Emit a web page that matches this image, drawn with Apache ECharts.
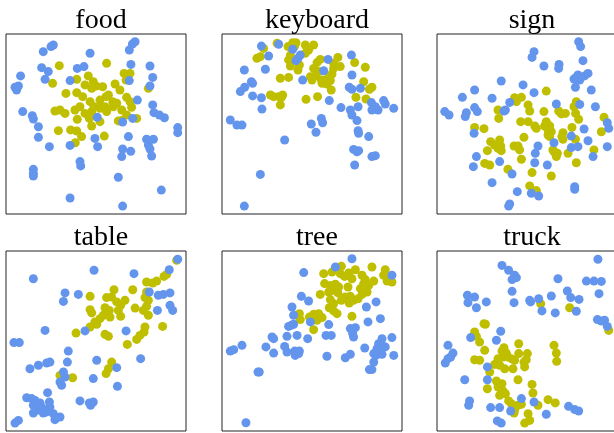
<!DOCTYPE html>
<html>
<head>
<meta charset="utf-8">
<script src="https://cdn.jsdelivr.net/npm/echarts@6/dist/echarts.min.js"></script>
<style>
  html, body { margin: 0; padding: 0; background: #fff; }
  #chart { width: 614px; height: 433px; }
</style>
</head>
<body>
<div id="chart"></div>
<script>
// Panel titles (one per embedding plot)
const panelTitles = ['food', 'keyboard', 'sign', 'table', 'tree', 'truck'];

// Two groups per panel, [x, y] in embedding units (0–100)
const foodBlue = [
  [26.3,93.9],[25.0,93.0],[20.7,90.2],[46.7,89.3],[71.7,95.7],[70.2,94.4],[68.5,91.1],[69.4,83.1],[80.0,82.2],
  [19.8,81.3],[23.5,79.1],[21.7,74.8],[8.1,76.7],[5.0,70.4],[5.9,68.9],[6.9,71.1],[39.6,80.9],[43.3,81.9],
  [35.6,74.1],[68.5,74.1],[81.5,75.9],[80.0,71.1],[73.0,63.3],[81.5,60.6],[82.2,56.3],[85.2,55.0],[88.0,53.5],
  [9.3,56.9],[14.6,54.6],[15.2,52.8],[18.0,48.5],[18.0,42.6],[24.1,37.4],[50.7,53.7],[70.4,53.1],[64.8,51.1],
  [95.4,48.0],[95.4,45.2],[68.0,43.0],[49.4,42.0],[50.9,37.4],[35.6,38.1],[78.1,41.5],[81.9,41.5],[79.1,38.3],
  [80.0,36.1],[80.9,32.2],[64.8,36.1],[69.3,34.8],[64.3,31.9],[41.1,29.1],[41.5,26.7],[15.2,24.8],[15.2,22.6],
  [15.2,21.1],[62.4,20.4],[86.3,13.3],[35.6,8.9],[64.8,4.4]
];
const foodYellow = [
  [29.6,82.4],[55.9,83.7],[65.6,78.1],[68.9,78.1],[25.9,72.6],[39.3,74.8],[45.7,76.7],[43.9,71.7],[48.5,73.5],
  [53.7,70.7],[60.6,72.2],[66.7,74.4],[63.3,68.9],[79.1,69.8],[33.3,67.0],[39.3,67.4],[42.6,65.2],[47.6,69.8],
  [50.0,71.1],[55.6,65.2],[56.9,66.1],[52.2,63.3],[46.7,62.4],[48.9,59.6],[59.3,62.4],[61.5,61.5],[67.0,64.8],
  [68.9,62.4],[69.8,59.3],[27.2,57.2],[30.0,57.8],[32.8,55.9],[38.3,57.8],[41.1,59.6],[43.9,55.9],[47.6,56.9],
  [52.2,58.7],[55.0,59.6],[55.9,56.9],[59.6,59.6],[64.3,57.8],[64.3,51.9],[67.0,55.0],[72.6,53.1],[39.6,52.6],
  [46.3,53.1],[52.2,51.3],[62.4,51.7],[47.6,48.9],[29.1,46.3],[35.9,46.7],[39.3,46.1],[42.0,43.0],[54.6,43.3],
  [38.5,39.6]
];

const keyboardBlue = [
  [21.9,93.3],[31.5,94.3],[25.9,87.8],[39.3,91.5],[43.5,88.3],[41.1,85.2],[42.2,86.5],[58.9,85.9],[71.9,88.3],
  [12.4,80.0],[24.1,80.4],[56.5,79.6],[72.2,77.2],[44.8,74.4],[16.3,73.5],[17.0,72.6],[12.6,70.4],[10.2,68.0],
  [17.0,65.6],[21.9,64.6],[22.2,58.3],[70.7,70.4],[72.2,69.3],[76.9,69.8],[59.6,63.0],[66.1,59.1],[71.3,57.8],
  [72.2,55.0],[75.6,59.6],[83.0,61.9],[83.3,57.8],[86.7,57.8],[89.8,63.0],[90.7,61.1],[95.4,58.7],[85.2,59.6],
  [4.6,52.2],[8.3,49.4],[11.1,49.4],[55.2,53.1],[55.9,50.7],[49.6,50.0],[52.2,45.4],[75.0,51.9],[75.6,46.3],
  [75.9,44.8],[81.5,43.0],[34.8,41.1],[73.1,35.9],[75.9,35.2],[75.0,34.6],[83.3,31.9],[85.2,32.4],[73.7,27.2],
  [21.3,22.0],[12.4,4.4]
];
const keyboardYellow = [
  [23.1,92.0],[30.6,94.8],[36.7,93.0],[39.3,95.2],[41.1,95.2],[40.4,93.3],[46.3,93.9],[50.9,93.9],[46.3,89.3],
  [48.1,91.1],[38.0,88.3],[19.4,86.5],[21.3,87.4],[37.0,85.6],[43.0,82.8],[42.2,80.0],[38.0,82.2],[52.8,84.1],
  [54.6,85.9],[50.9,80.9],[53.7,79.1],[51.9,76.7],[62.0,83.7],[62.0,80.9],[64.4,87.0],[65.7,81.9],[73.7,84.1],
  [79.6,81.5],[49.1,76.3],[50.0,74.4],[55.2,74.4],[57.4,74.4],[59.6,76.3],[61.1,77.8],[60.2,74.1],[32.4,75.4],
  [37.0,75.9],[55.6,72.6],[58.3,72.2],[60.7,68.9],[78.7,73.5],[83.3,70.4],[81.9,69.3],[26.9,66.1],[28.7,65.2],
  [31.5,65.2],[33.7,66.1],[33.0,64.8],[32.4,60.6],[46.7,63.7],[53.1,65.2],[74.4,64.8],[80.0,63.9]
];

const signBlue = [
  [78.7,95.7],[79.8,93.0],[53.9,90.2],[52.8,87.0],[59.4,82.2],[67.8,83.1],[67.6,80.9],[81.1,85.2],[76.1,75.0],
  [78.3,77.2],[79.3,74.4],[82.0,76.7],[83.9,78.1],[77.4,75.9],[76.9,70.4],[85.7,68.9],[35.7,73.9],[47.8,71.7],
  [20.9,68.9],[53.9,67.4],[14.1,64.8],[30.6,64.3],[4.3,56.9],[6.7,55.0],[16.3,56.3],[15.7,54.1],[20.9,59.1],
  [22.4,56.9],[40.4,62.0],[38.0,57.8],[37.2,57.2],[66.3,61.1],[79.3,60.9],[88.0,59.6],[94.6,50.7],[95.4,47.6],
  [81.7,47.2],[20.6,44.8],[74.6,43.3],[83.9,40.7],[65.0,39.6],[56.1,37.8],[54.6,33.7],[74.6,36.9],[78.3,37.4],
  [94.6,37.4],[86.7,31.9],[21.9,31.9],[20.2,26.3],[34.8,29.1],[54.3,28.5],[61.3,27.2],[41.7,22.2],[30.6,17.4],
  [76.5,15.2],[76.5,13.7],[44.6,12.4],[52.4,11.5],[56.5,10.0],[40.4,5.6],[39.8,4.4]
];
const signYellow = [
  [60.7,68.3],[43.1,64.6],[46.9,64.8],[44.1,62.4],[50.6,60.6],[51.5,57.2],[33.9,57.8],[34.3,53.1],[59.4,56.9],
  [67.6,57.2],[69.1,55.6],[71.3,55.9],[77.4,62.4],[76.1,59.6],[77.0,55.9],[78.7,52.6],[92.8,53.7],[91.3,45.7],
  [20.9,48.1],[26.1,47.4],[46.5,51.3],[50.6,51.3],[54.3,48.9],[55.2,47.6],[60.7,51.3],[59.8,48.9],[62.6,48.9],
  [61.7,46.7],[63.5,45.7],[62.6,43.0],[61.7,43.9],[70.0,45.2],[69.4,43.0],[70.0,41.5],[75.0,48.1],[76.9,41.5],
  [48.3,42.6],[29.8,40.2],[32.0,38.3],[34.8,41.1],[35.4,37.8],[33.9,36.5],[35.7,35.2],[28.0,35.2],[42.8,37.8],
  [45.0,37.8],[45.9,35.6],[46.9,30.4],[64.4,35.6],[66.9,33.7],[66.3,31.9],[65.0,34.6],[72.8,33.7],[87.2,35.6],
  [77.4,28.5],[26.5,28.1],[29.3,27.2],[39.4,24.8],[52.8,23.0],[63.5,21.1],[51.5,15.6],[55.2,13.0]
];

const tableBlue = [
  [95.4,95.4],[90.7,89.6],[48.9,89.3],[71.1,87.4],[15.2,84.6],[32.8,76.7],[31.9,72.0],[40.2,75.9],[79.6,77.2],
  [84.6,75.4],[87.4,75.9],[91.1,76.7],[91.1,69.8],[92.6,67.0],[84.1,67.0],[21.7,55.9],[43.9,55.6],[66.7,55.6],
  [4.4,49.1],[7.4,49.1],[34.6,44.4],[34.1,38.3],[22.6,37.8],[24.4,38.3],[18.0,36.5],[13.3,34.6],[50.4,39.3],
  [61.5,35.2],[74.8,40.2],[31.9,32.8],[32.8,30.0],[30.0,27.2],[30.9,25.4],[48.5,29.1],[61.9,24.8],[23.1,21.3],
  [11.5,18.5],[14.3,18.0],[16.1,17.0],[15.2,14.3],[18.9,15.6],[19.8,13.3],[17.0,11.5],[15.2,10.0],[24.1,16.1],
  [24.4,13.3],[22.6,10.6],[26.3,9.6],[27.2,6.3],[30.0,7.8],[20.7,10.0],[41.1,16.7],[46.3,15.6],[48.5,16.1],
  [47.0,14.3],[5.0,4.4],[6.9,5.9]
];
const tableYellow = [
  [94.8,94.8],[89.3,87.0],[87.8,85.9],[83.7,83.3],[78.1,82.8],[81.5,82.2],[70.4,78.5],[60.0,78.5],[58.7,74.4],
  [55.9,74.1],[46.7,74.8],[78.1,77.2],[77.2,74.1],[79.1,72.6],[78.1,69.3],[76.3,67.0],[79.1,64.3],[61.5,71.7],
  [66.1,72.6],[63.7,69.8],[62.4,67.0],[63.7,63.7],[71.7,68.3],[46.7,67.4],[47.6,65.6],[55.0,68.5],[55.9,66.1],
  [57.4,67.0],[54.1,64.3],[52.2,62.4],[57.8,63.3],[49.4,60.6],[50.4,59.3],[46.7,57.8],[38.9,54.4],[55.0,53.7],
  [56.9,52.6],[87.0,58.1],[77.2,57.8],[76.7,55.0],[74.4,53.1],[72.6,50.9],[67.4,48.1],[58.7,38.3],[56.9,34.6],
  [55.6,31.9],[30.0,30.9],[37.0,29.6]
];

const treeBlue = [
  [72.2,95.7],[63.0,91.1],[45.4,88.0],[94.4,86.5],[44.1,74.8],[48.1,72.2],[38.9,68.9],[39.8,64.3],[85.6,71.7],
  [80.2,68.9],[88.0,62.4],[81.1,60.6],[49.1,60.6],[37.0,58.1],[38.5,58.7],[39.8,59.3],[59.3,59.1],[71.3,56.9],
  [74.1,57.4],[72.6,54.1],[73.1,52.2],[27.8,52.2],[28.7,51.3],[36.1,52.6],[41.7,53.1],[47.6,51.3],[57.8,53.1],
  [60.7,53.1],[88.9,51.3],[94.4,51.9],[11.1,47.6],[6.5,45.2],[4.6,44.4],[24.4,46.7],[28.7,43.3],[34.8,47.0],
  [36.1,43.9],[40.4,44.4],[43.0,44.4],[40.7,42.0],[42.6,43.0],[58.3,41.5],[68.5,40.7],[71.3,42.6],[79.3,46.1],
  [87.0,48.5],[89.8,47.0],[86.1,45.7],[88.0,43.3],[84.3,43.0],[88.9,42.6],[85.6,42.0],[90.7,46.7],[95.4,42.0],
  [84.3,38.3],[81.9,34.1],[83.3,34.1],[20.0,32.8],[20.7,32.8],[13.3,4.6]
];
const treeYellow = [
  [56.5,87.4],[61.1,88.3],[66.3,91.5],[65.7,87.4],[68.1,85.9],[70.4,87.8],[74.1,89.6],[72.2,84.6],[83.3,91.1],
  [90.7,89.6],[89.8,86.5],[91.7,83.3],[94.4,82.8],[77.8,86.5],[79.6,84.1],[84.3,83.3],[81.5,80.9],[78.7,81.9],
  [57.0,81.9],[60.2,80.9],[63.0,81.5],[64.8,80.0],[61.1,78.1],[59.3,77.2],[64.4,76.7],[70.0,80.0],[76.9,79.1],
  [80.6,77.2],[77.8,75.9],[75.6,73.5],[73.1,72.6],[71.3,74.8],[68.5,74.4],[70.7,71.1],[54.6,75.9],[60.2,73.0],
  [62.0,70.7],[59.6,68.5],[62.0,66.7],[63.9,65.2],[66.3,72.6],[43.0,65.2],[43.5,61.9],[48.5,63.3],[50.9,64.8],
  [53.7,65.2],[55.6,63.0],[52.8,61.5],[50.9,56.3],[72.2,63.7]
];

const truckBlue = [
  [89.4,95.4],[36.1,92.0],[39.8,89.3],[43.1,86.5],[41.7,84.1],[44.1,85.2],[67.2,84.6],[83.0,83.3],[87.2,83.3],
  [91.3,83.1],[41.7,77.6],[42.8,71.3],[72.4,77.8],[74.3,74.1],[78.9,73.1],[90.0,76.3],[16.9,75.4],[20.9,74.4],
  [17.2,71.3],[21.9,68.5],[27.4,71.7],[51.5,72.6],[52.0,71.7],[56.5,73.5],[63.5,75.0],[58.3,66.7],[65.7,65.6],
  [77.4,66.5],[89.1,61.9],[91.3,61.1],[93.1,61.5],[94.6,58.1],[35.4,55.4],[18.7,51.9],[33.0,50.4],[6.1,47.6],
  [8.9,43.3],[7.6,41.1],[6.1,40.2],[4.6,37.8],[28.0,35.6],[15.4,28.5],[28.0,28.5],[18.1,16.7],[17.6,14.3],
  [29.8,13.0],[34.8,13.0],[46.9,18.0],[53.9,16.1],[40.9,11.1],[60.7,9.3],[73.1,13.7],[76.5,11.9],[78.7,11.1],
  [33.5,5.6],[35.7,4.4]
];
const truckYellow = [
  [57.6,70.7],[73.7,68.5],[95.4,55.9],[26.1,59.6],[26.9,59.3],[20.9,55.0],[21.9,52.6],[23.7,49.4],[26.5,44.8],
  [20.9,39.6],[23.7,39.3],[45.4,48.5],[37.2,46.3],[36.1,44.4],[38.5,43.3],[36.7,41.1],[39.4,41.1],[33.9,40.2],
  [41.3,40.2],[43.1,39.3],[45.4,43.0],[50.2,43.0],[32.0,37.0],[34.8,36.5],[37.6,34.6],[42.2,34.6],[48.7,35.6],
  [48.3,38.3],[49.6,39.6],[29.3,32.8],[45.0,28.5],[65.0,47.6],[66.3,43.3],[66.5,38.7],[33.0,27.8],[36.1,26.3],
  [33.9,24.4],[36.7,22.2],[34.8,19.8],[38.0,20.7],[39.8,16.7],[41.3,15.2],[45.0,14.3],[28.0,23.5],[52.8,25.9],
  [53.3,21.1],[46.9,14.8],[43.1,11.5],[42.8,10.0],[56.1,14.3],[61.7,17.4],[65.7,15.6],[50.6,9.6],[51.5,5.9],
  [48.7,4.4]
];

// Yellow group drawn first so the blue group sits on top
const panelSeries = [
  [foodYellow, foodBlue],
  [keyboardYellow, keyboardBlue],
  [signYellow, signBlue],
  [tableYellow, tableBlue],
  [treeYellow, treeBlue],
  [truckYellow, truckBlue]
];

const groupColors = ['#BFBF00', '#6495ED'];

// 2 x 3 layout of square plot boxes (the right column runs past the page edge)
const colLefts = [6, 222, 437];
const rowTops = [34, 251];
const boxSize = 180;

const grids = [], xAxes = [], yAxes = [], titles = [], series = [];
panelTitles.forEach((name, i) => {
  const col = i % 3, row = Math.floor(i / 3);
  grids.push({
    left: colLefts[col], top: rowTops[row], width: boxSize, height: boxSize,
    outerBoundsMode: 'none', containLabel: false,
    show: true, borderColor: '#222', borderWidth: 1, backgroundColor: '#fff'
  });
  const hidden = {
    gridIndex: i, type: 'value', min: 0, max: 100,
    axisLine: { show: false }, axisTick: { show: false },
    axisLabel: { show: false }, splitLine: { show: false }
  };
  xAxes.push(Object.assign({}, hidden));
  yAxes.push(Object.assign({}, hidden));
  titles.push({
    text: name,
    left: colLefts[col] + boxSize / 2,
    top: row === 0 ? 2 : 219,
    textAlign: 'center',
    textStyle: { fontFamily: 'Liberation Serif', fontWeight: 'normal', fontSize: 28, color: '#000' }
  });
  panelSeries[i].forEach((pts, g) => {
    series.push({
      type: 'scatter', xAxisIndex: i, yAxisIndex: i,
      data: pts, symbolSize: 9,
      itemStyle: { color: groupColors[g], opacity: 1 },
      silent: true, animation: false
    });
  });
});

const chart = echarts.init(document.getElementById('chart'), null, { renderer: 'canvas' });
chart.setOption({
  backgroundColor: '#fff',
  animation: false,
  title: titles,
  grid: grids,
  xAxis: xAxes,
  yAxis: yAxes,
  series: series
});
</script>
</body>
</html>
